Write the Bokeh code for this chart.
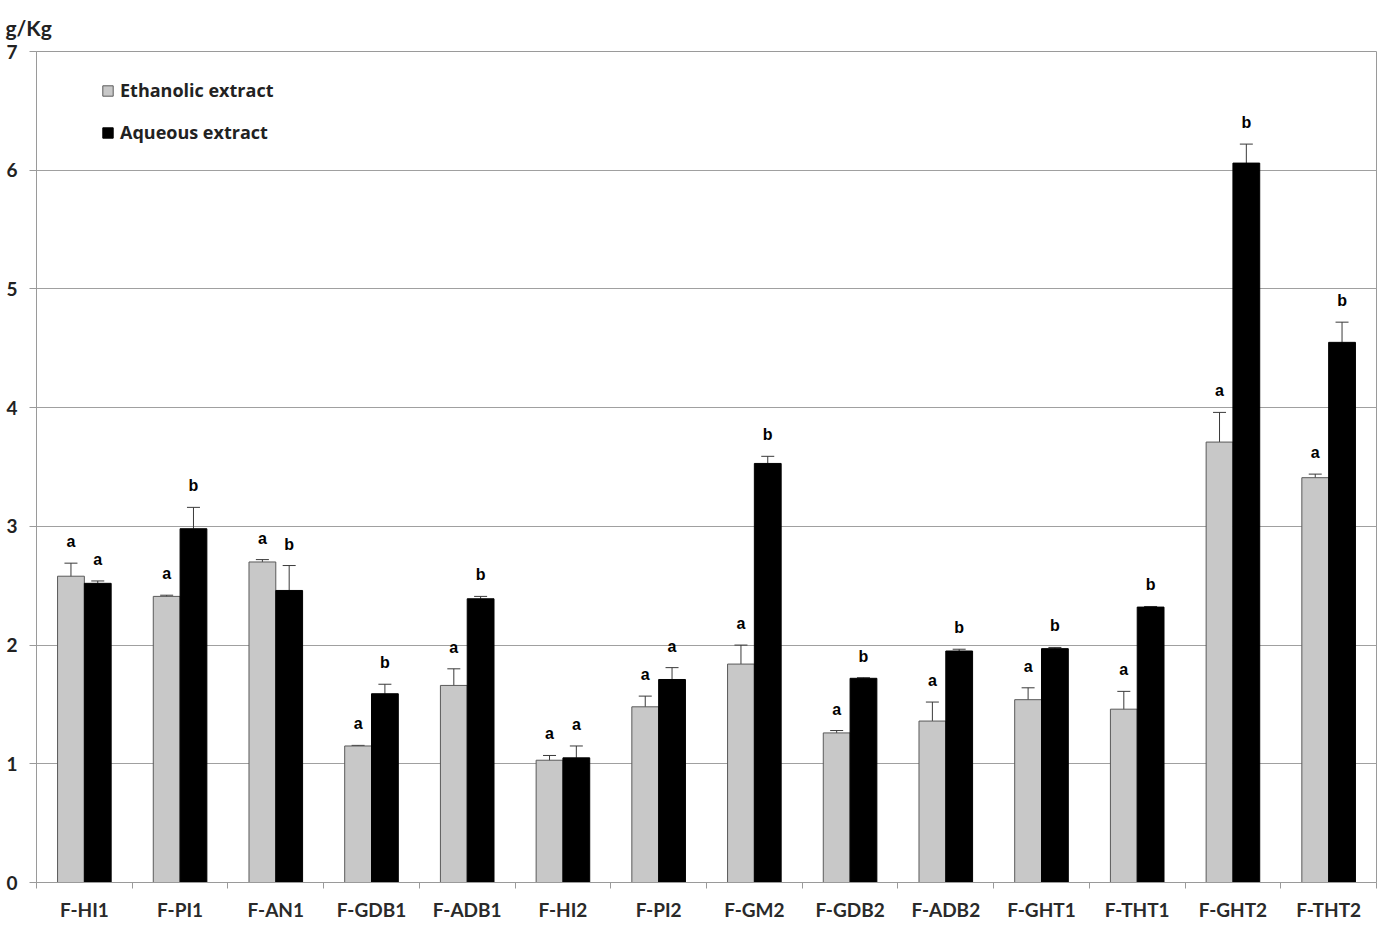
from bokeh.plotting import figure
from bokeh.models import (ColumnDataSource, Whisker, TeeHead, Legend, LegendItem,
                          FixedTicker)
from bokeh.core.properties import value
from bokeh.embed import file_html
from bokeh.resources import INLINE

categories = ["F-HI1", "F-PI1", "F-AN1", "F-GDB1", "F-ADB1", "F-HI2", "F-PI2",
              "F-GM2", "F-GDB2", "F-ADB2", "F-GHT1", "F-THT1", "F-GHT2", "F-THT2"]
ethanolic = [2.58, 2.41, 2.70, 1.15, 1.66, 1.03, 1.48, 1.84, 1.26, 1.36, 1.54, 1.46, 3.71, 3.41]
ethanolic_err = [0.11, 0.01, 0.02, 0.005, 0.14, 0.04, 0.09, 0.16, 0.02, 0.16, 0.10, 0.15, 0.25, 0.03]
aqueous = [2.52, 2.98, 2.46, 1.59, 2.39, 1.05, 1.71, 3.53, 1.72, 1.95, 1.97, 2.32, 6.06, 4.55]
aqueous_err = [0.02, 0.18, 0.21, 0.08, 0.02, 0.10, 0.10, 0.06, 0.005, 0.015, 0.01, 0.005, 0.16, 0.17]
ethanolic_letters = ["a"] * 14
aqueous_letters = ["a", "b", "b", "b", "b", "a", "a", "b", "b", "b", "b", "b", "b", "b"]
y_ticks = [0, 1, 2, 3, 4, 5, 6, 7]

GRAY = "#c8c8c8"
BAR_W = 0.28
n = len(categories)
centers = [i + 0.5 for i in range(n)]

src_e = ColumnDataSource(dict(
    x=[c - BAR_W / 2 for c in centers], top=ethanolic,
    upper=[v + e for v, e in zip(ethanolic, ethanolic_err)],
    lower=[v - e for v, e in zip(ethanolic, ethanolic_err)],
    letter=ethanolic_letters))
src_a = ColumnDataSource(dict(
    x=[c + BAR_W / 2 for c in centers], top=aqueous,
    upper=[v + e for v, e in zip(aqueous, aqueous_err)],
    lower=list(aqueous),
    letter=aqueous_letters))

p = figure(width=1379, height=923, x_range=(0, n), y_range=(0, 7),
           output_backend="svg", toolbar_location=None,
           min_border_left=36, min_border_right=3, min_border_top=51, min_border_bottom=38)
p.background_fill_color = "white"
p.border_fill_color = "white"
p.outline_line_color = "#9a9a9a"
p.outline_line_width = 1

p.title.text = "g/Kg"
p.title.align = "left"
p.title.offset = -31
p.title.standoff = 24
p.title.text_font = "Lato"
p.title.text_font_style = "bold"
p.title.text_font_size = "21px"
p.title.text_color = "#222222"

r_e = p.vbar(x="x", top="top", width=BAR_W, source=src_e, fill_color=GRAY,
             line_color="#5a5a5a", line_width=1)
r_a = p.vbar(x="x", top="top", width=BAR_W, source=src_a, fill_color="black",
             line_color="black", line_width=1)

we = Whisker(base="x", upper="upper", lower="lower", source=src_e,
             line_color="#3a3a3a", line_width=1,
             upper_head=TeeHead(size=13, line_color="#3a3a3a", line_width=1),
             lower_head=TeeHead(size=13, line_color="#3a3a3a", line_width=1))
wa = Whisker(base="x", upper="upper", lower="lower", source=src_a,
             line_color="#3a3a3a", line_width=1,
             upper_head=TeeHead(size=13, line_color="#3a3a3a", line_width=1),
             lower_head=None)
p.add_layout(we)
p.add_layout(wa)

for src in (src_e, src_a):
    p.text(x="x", y="upper", text="letter", source=src, y_offset=-13,
           text_align="center", text_baseline="bottom",
           text_font=value("Liberation Sans"), text_font_style="bold",
           text_font_size="16px", text_color="black")

# axes
p.xgrid.grid_line_color = None
p.ygrid.grid_line_color = "#a0a0a0"
p.ygrid.grid_line_width = 1
p.ygrid.ticker = FixedTicker(ticks=y_ticks)

p.yaxis.ticker = FixedTicker(ticks=y_ticks)
p.yaxis.axis_line_color = "#9a9a9a"
p.yaxis.major_tick_line_color = "#9a9a9a"
p.yaxis.major_tick_out = 7
p.yaxis.major_tick_in = 0
p.yaxis.minor_tick_line_color = None
p.yaxis.major_label_standoff = 12
p.yaxis.major_label_text_font = "Lato"
p.yaxis.major_label_text_font_style = "bold"
p.yaxis.major_label_text_font_size = "19px"
p.yaxis.major_label_text_color = "#222222"

p.xaxis.ticker = FixedTicker(ticks=centers, minor_ticks=list(range(n + 1)))
p.xaxis.major_label_overrides = {c: lab for c, lab in zip(centers, categories)}
p.xaxis.axis_line_color = "#9a9a9a"
p.xaxis.major_tick_line_color = None
p.xaxis.major_tick_out = 6
p.xaxis.major_tick_in = 0
p.xaxis.minor_tick_line_color = "#9a9a9a"
p.xaxis.minor_tick_out = 6
p.xaxis.minor_tick_in = 0
p.xaxis.major_label_standoff = 9
p.xaxis.major_label_text_font = "Lato"
p.xaxis.major_label_text_font_style = "bold"
p.xaxis.major_label_text_font_size = "19px"
p.xaxis.major_label_text_color = "#2a2a2a"

legend = Legend(items=[LegendItem(label="Ethanolic extract", renderers=[r_e]),
                       LegendItem(label="Aqueous extract", renderers=[r_a])],
                location=(65, 738), padding=0, margin=0, spacing=18,
                glyph_width=13, glyph_height=13, label_height=20, label_standoff=6,
                label_text_font="Open Sans", label_text_font_style="bold",
                label_text_font_size="18px", label_text_color="#222222",
                background_fill_alpha=0, border_line_color=None)
p.add_layout(legend)

open("out.html", "w").write(file_html(p, INLINE))
